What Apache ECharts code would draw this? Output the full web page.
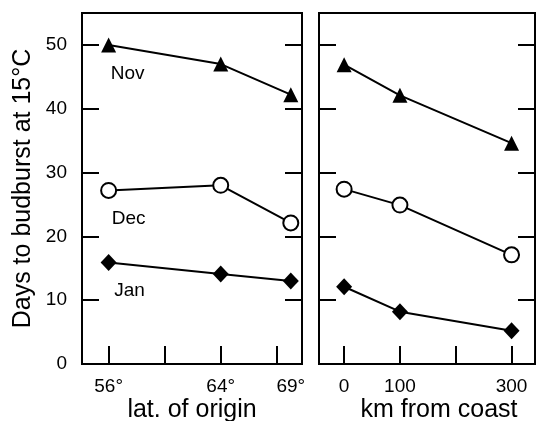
<!DOCTYPE html>
<html>
<head>
<meta charset="utf-8">
<script src="https://cdn.jsdelivr.net/npm/echarts@6/dist/echarts.min.js"></script>
<style>
	html,body{margin:0;padding:0;background:#fff;}
	#chart{width:538px;height:421px;}
</style>
</head>
<body>
<div id="chart"></div>
<script>
	// x positions
	var latitudes = [56, 64, 69];
	var distances = [0, 100, 300];
	var months = ['Nov', 'Dec', 'Jan'];

	// days to budburst, by latitude of origin
	var latNov = [50, 47, 42.2];
	var latDec = [27.2, 28.0, 22.1];
	var latJan = [15.9, 14.1, 13.0];

	// days to budburst, by distance from coast
	var kmNov = [46.9, 42.1, 34.6];
	var kmDec = [27.4, 24.9, 17.1];
	var kmJan = [12.1, 8.2, 5.2];

	// ticks and labels
	var yTicks = [0, 10, 20, 30, 40, 50];
	var latTicks = [56, 60, 64, 68];
	var latLabels = [56, 64, 69];
	var kmTicks = [0, 100, 200, 300];
	var kmLabels = [0, 100, 300];

	var font = '"Liberation Sans", Arial, Helvetica, sans-serif';
	var symbols = ['triangle', 'circle', 'diamond'];
	var symbolSizes = [15, 15, [16, 17]];
	var labelOffsets = [[19, 29], [20, 28], [21, 28]];

	function pairs(xs, ys, withLabel, idx){
		var out = [];
		for(var i = 0; i < xs.length; i++){
			if(withLabel && i == 0){
				out.push({
					value: [xs[i], ys[i]],
					label: {
						show: true,
						position: 'inside',
						offset: labelOffsets[idx],
						formatter: months[idx],
						color: '#000',
						fontSize: 19,
						fontFamily: font
					}
				});
			}else{
				out.push([xs[i], ys[i]]);
			}
		}
		return out;
	}

	function makeSeries(xs, ysList, xi, yi, withLabel){
		var list = [];
		for(var k = 0; k < ysList.length; k++){
			list.push({
				type: 'line',
				xAxisIndex: xi,
				yAxisIndex: yi,
				data: pairs(xs, ysList[k], withLabel, k),
				symbol: symbols[k],
				symbolSize: symbolSizes[k],
				showAllSymbol: true,
				lineStyle: {color: '#000', width: 2},
				itemStyle: {
					color: k == 1 ? '#fff' : '#000',
					borderColor: '#000',
					borderWidth: k == 1 ? 2 : 0
				},
				emphasis: {disabled: true},
				animation: false,
				z: 3
			});
		}
		return list;
	}

	function yAxis(gridIndex, pos, showLabel, name){
		return {
			type: 'value',
			gridIndex: gridIndex,
			position: pos,
			min: 0,
			max: 55,
			name: name || '',
			nameLocation: 'middle',
			nameGap: 46,
			nameMoveOverlap: false,
			nameTextStyle: {color: '#000', fontSize: 25, fontFamily: font},
			axisLine: {show: true, onZero: false, lineStyle: {color: '#000', width: 2}},
			axisTick: {show: true, inside: true, length: 17, customValues: yTicks, lineStyle: {color: '#000', width: 2}},
			axisLabel: {show: showLabel, customValues: yTicks, color: '#000', fontSize: 19, fontFamily: font, margin: 15},
			splitLine: {show: false}
		};
	}

	function xAxis(gridIndex, min, max, ticks, labels, suffix, name, pad){
		return {
			type: 'value',
			gridIndex: gridIndex,
			min: min,
			max: max,
			name: name,
			nameLocation: 'middle',
			nameGap: 34,
			nameMoveOverlap: false,
			nameTextStyle: {color: '#000', fontSize: 25, fontFamily: font, padding: pad},
			axisLine: {show: true, onZero: false, lineStyle: {color: '#000', width: 2}},
			axisTick: {show: true, inside: true, length: 18, customValues: ticks, lineStyle: {color: '#000', width: 2}},
			axisLabel: {
				show: true,
				customValues: labels,
				color: '#000',
				fontSize: 19,
				fontFamily: font,
				margin: 13,
				formatter: function(v){ return v + suffix; }
			},
			splitLine: {show: false}
		};
	}

	var chart = echarts.init(document.getElementById('chart'), null, {renderer: 'canvas'});
	var option = {
		backgroundColor: '#fff',
		animation: false,
		grid: [
			{left: 82, right: 236, top: 13, bottom: 57, outerBoundsMode: 'none', containLabel: false,
				show: true, borderColor: '#000', borderWidth: 2},
			{left: 319, right: 3, top: 13, bottom: 57, outerBoundsMode: 'none', containLabel: false,
				show: true, borderColor: '#000', borderWidth: 2}
		],
		xAxis: [
			xAxis(0, 54.1, 69.8, latTicks, latLabels, '°', 'lat. of origin', [0, 0, 0, 0]),
			xAxis(1, -45, 342, kmTicks, kmLabels, '', 'km from coast', [0, 0, 0, 24])
		],
		yAxis: [
			yAxis(0, 'left', true, 'Days to budburst at 15°C'),
			yAxis(0, 'right', false),
			yAxis(1, 'left', false),
			yAxis(1, 'right', false)
		],
		series: makeSeries(latitudes, [latNov, latDec, latJan], 0, 0, true)
			.concat(makeSeries(distances, [kmNov, kmDec, kmJan], 1, 2, false))
	};
	chart.setOption(option);
</script>
</body>
</html>
